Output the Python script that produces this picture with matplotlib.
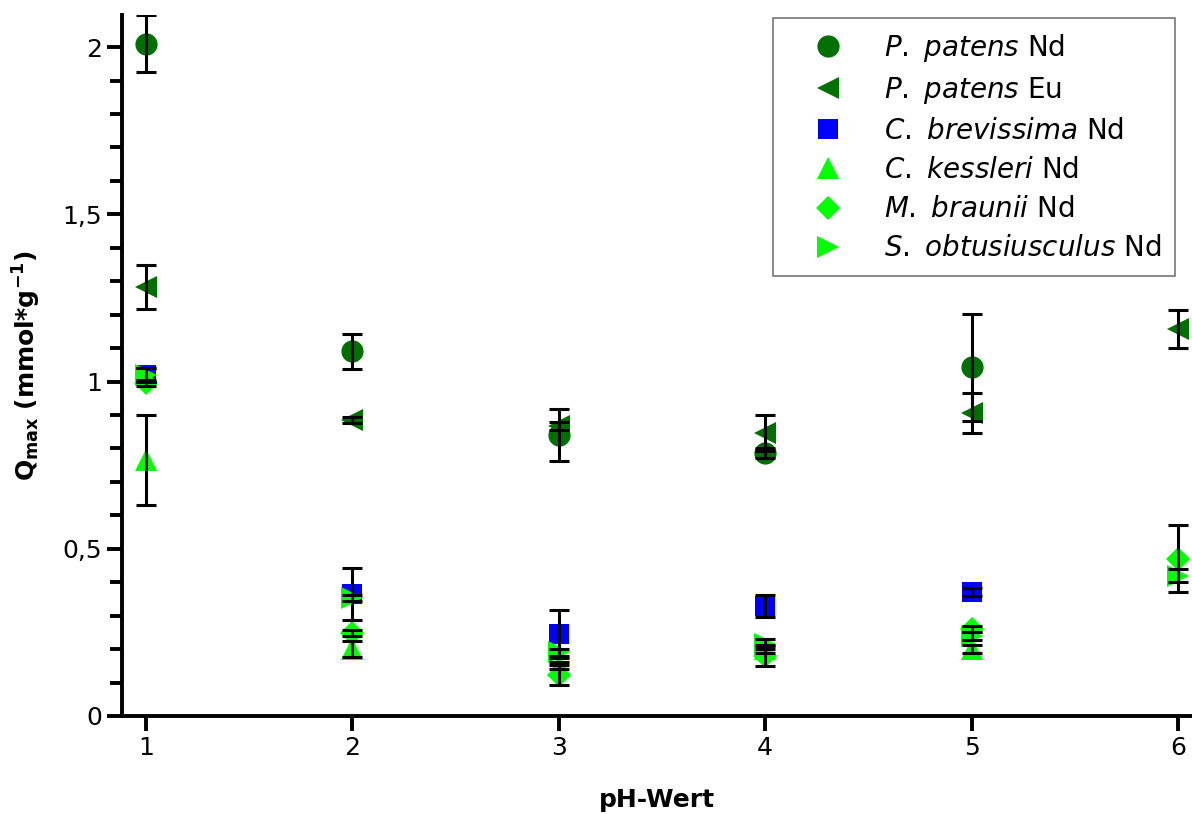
import numpy as np
import matplotlib
matplotlib.use('Agg')
import matplotlib.pyplot as plt
from matplotlib.ticker import MultipleLocator, FuncFormatter

# pH values
ph = [1, 2, 3, 4, 5, 6]
nan = np.nan

# Qmax values (mmol/g) and their errors
pp_nd = [2.01, 1.09, 0.84, 0.785, 1.043, nan]
pp_nd_err = [0.085, 0.053, 0.077, 0.015, 0.16, nan]
pp_eu = [1.283, 0.885, 0.868, 0.846, 0.906, 1.157]
pp_eu_err = [0.065, 0.01, 0.012, 0.055, 0.06, 0.057]
cb_nd = [1.02, 0.365, 0.245, 0.33, 0.37, nan]
cb_nd_err = [0.02, 0.078, 0.073, 0.033, 0.012, nan]
ck_nd = [0.765, 0.2, 0.15, 0.2, 0.2, nan]
ck_nd_err = [0.135, 0.025, 0.01, 0.012, 0.012, nan]
mb_nd = [0.996, 0.248, 0.123, 0.18, 0.26, 0.47]
mb_nd_err = [0.01, 0.01, 0.03, 0.03, 0.01, 0.1]
so_nd = [1.02, 0.353, 0.19, 0.215, 0.238, 0.42]
so_nd_err = [0.02, 0.01, 0.01, 0.015, 0.012, 0.02]

labels = [r'$\mathit{P.}$ $\mathit{patens}$ Nd', r'$\mathit{P.}$ $\mathit{patens}$ Eu',
          r'$\mathit{C.}$ $\mathit{brevissima}$ Nd', r'$\mathit{C.}$ $\mathit{kessleri}$ Nd',
          r'$\mathit{M.}$ $\mathit{braunii}$ Nd', r'$\mathit{S.}$ $\mathit{obtusiusculus}$ Nd']

series = [(pp_nd, pp_nd_err, 'o', '#007000', 16),
          (pp_eu, pp_eu_err, '<', '#007000', 16),
          (cb_nd, cb_nd_err, 's', '#0000ff', 15),
          (ck_nd, ck_nd_err, '^', '#00ff00', 16),
          (mb_nd, mb_nd_err, 'D', '#00ff00', 12),
          (so_nd, so_nd_err, '>', '#00ff00', 16)]

plt.rcParams['font.family'] = 'DejaVu Sans'
plt.rcParams['mathtext.fontset'] = 'dejavusans'

fig = plt.figure(figsize=(11.92, 8.14), dpi=100)
ax = fig.add_axes([0.1023, 0.1204, 0.8977, 0.8612])

for (y, e, m, c, ms), lab in zip(series, labels):
    ax.plot(ph, y, linestyle='none', marker=m, color=c, markersize=ms,
            markeredgewidth=0, label=lab, zorder=2, clip_on=True)

for (y, e, m, c, ms) in series:
    ax.errorbar(ph, y, yerr=e, fmt='none', ecolor='black', elinewidth=2.2,
                capsize=7, capthick=2.2, zorder=3)

ax.set_xlim(0.884, 6.068)
ax.set_ylim(0, 2.096)

for s in ['top', 'right']:
    ax.spines[s].set_visible(False)
for s in ['left', 'bottom']:
    ax.spines[s].set_linewidth(2.8)

ax.set_xticks(ph)
ax.yaxis.set_major_locator(MultipleLocator(0.5))
ax.yaxis.set_minor_locator(MultipleLocator(0.1))
ax.yaxis.set_major_formatter(FuncFormatter(lambda v, p: ('%g' % v).replace('.', ',')))
ax.tick_params(axis='both', which='major', direction='out', length=11, width=2.8,
               labelsize=18)
ax.tick_params(axis='y', which='minor', direction='out', length=9, width=2.8)

ax.set_xlabel('pH-Wert', fontsize=18, fontweight='bold', labelpad=20)
ax.set_ylabel(r'$\mathbf{Q_{max}\ (mmol{*}g^{-1})}$', fontsize=18, labelpad=14)

leg = ax.legend(loc='upper right', bbox_to_anchor=(0.984, 0.9957), fontsize=20,
                frameon=True, fancybox=False, edgecolor='#555555',
                handletextpad=0.5, borderpad=0.5, labelspacing=0.4,
                handlelength=3.0, borderaxespad=0)
leg.get_frame().set_linewidth(1.2)

fig.savefig('out.png', dpi=100)
